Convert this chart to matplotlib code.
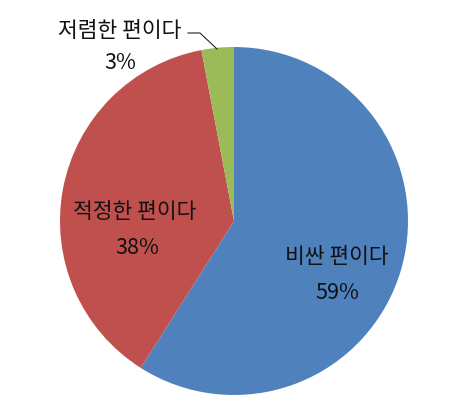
import matplotlib
matplotlib.use("Agg")
import matplotlib.pyplot as plt

plt.rcParams['font.family'] = ['Noto Sans CJK KR', 'DejaVu Sans']

categories = ["비싼 편이다", "적정한 편이다", "저렴한 편이다"]
shares = [59, 38, 3]
colors = ["#4F81BD", "#C0504D", "#9BBB59"]

W, H = 462, 415
cx, cy, R = 234, 221, 174  # pie centre and radius in pixels

fig = plt.figure(figsize=(W / 100, H / 100), dpi=100)
ax = fig.add_axes([0, 0, 1, 1])

ax.pie(shares, colors=colors, startangle=90, counterclock=False,
       radius=1.0, center=(0, 0), frame=True,
       wedgeprops=dict(linewidth=0))
ax.set_xlim(-cx / R, (W - cx) / R)
ax.set_ylim(-(H - cy) / R, cy / R)
ax.set_aspect("auto")
ax.axis("off")


def px(x, y):
    return ((x - cx) / R, (cy - y) / R)


fs = 15.5
label_pos = [((337, 257), (337, 293)),
             ((135, 212), (137, 248)),
             ((120, 31), (120, 63))]
for name, val, (p1, p2) in zip(categories, shares, label_pos):
    ax.text(*px(*p1), name, ha="center", va="center", fontsize=fs,
            color="#111111", fontweight="light")
    ax.text(*px(*p2), f"{val}%", ha="center", va="center", fontsize=fs,
            color="#111111", fontweight="light")

# leader line for the small slice
pts = [px(188, 33), px(200, 33), px(217, 49)]
ax.plot([p[0] for p in pts], [p[1] for p in pts], color="#222222", linewidth=0.8)

fig.savefig("out.png", dpi=100)
